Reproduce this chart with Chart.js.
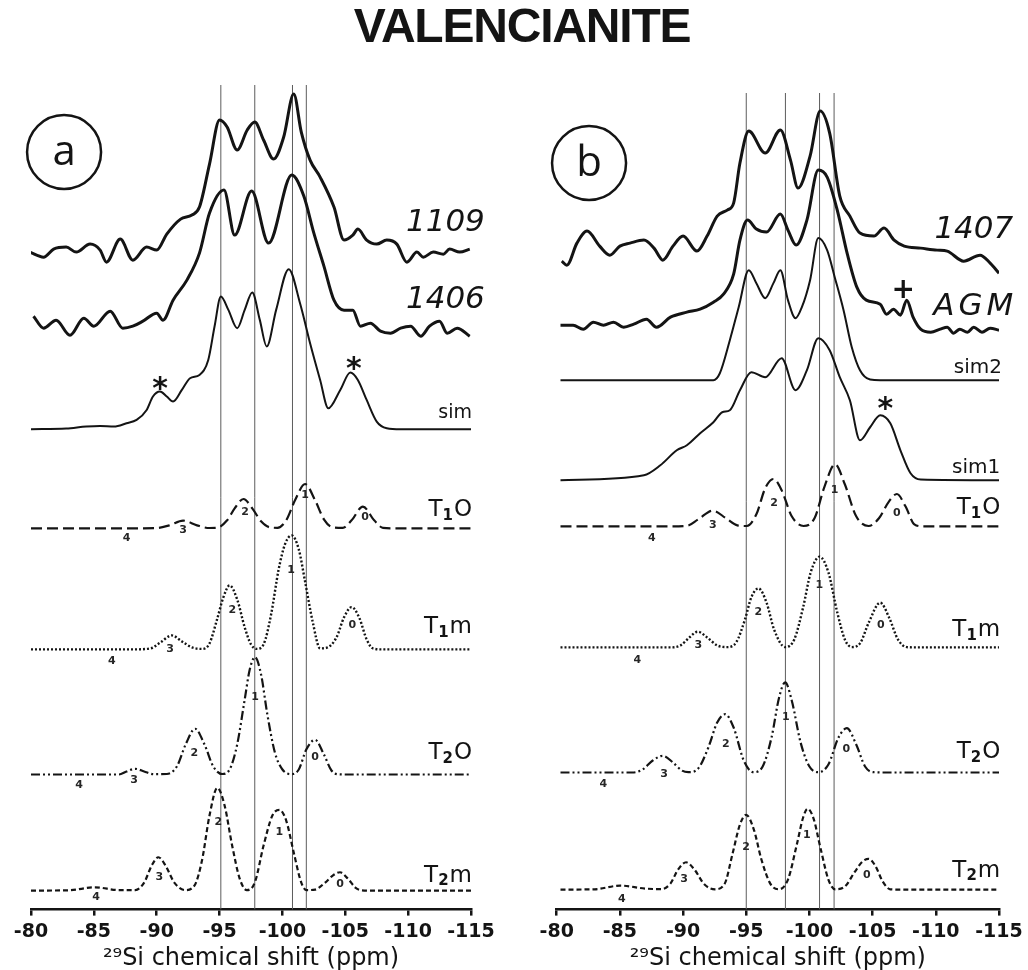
<!DOCTYPE html>
<html>
<head>
<meta charset="utf-8">
<script src="https://cdn.jsdelivr.net/npm/chart.js@4.4.1/dist/chart.umd.min.js"></script>
<style>
  html, body { margin: 0; padding: 0; background: #fff; }
  #wrap { position: relative; width: 1028px; height: 970px; overflow: hidden; }
  canvas { position: absolute; top: 0; }
  #title { position: absolute; left: 0; top: 0; width: 1044px; text-align: center;
           font: bold 48px "Liberation Sans", Arial, sans-serif; letter-spacing: -1.2px;
           line-height: 52px; color: #141414; }
</style>
</head>
<body>
<div id="wrap">
  <canvas id="panelA" width="514" height="970" style="left:0"></canvas>
  <canvas id="panelB" width="514" height="970" style="left:514px"></canvas>
  <div id="title">VALENCIANITE</div>
</div>
<script>
// ---- panel (a) : spectra, intensity above each trace's own baseline ----
const namesA   = ['1109', '1406', 'sim', 'T1O', 'T1m', 'T2O', 'T2m']
const offsetsA = [657, 581, 480, 381, 260, 135, 19]

const ppmA1109 = [-79.9,-81.0,-81.8,-82.8,-83.6,-84.7,-85.5,-86.0,-87.1,-88.1,-89.2,-90.0,-90.8,-91.9,-92.8,-93.4,-94.2,-95.0,-95.6,-96.4,-97.2,-97.8,-98.5,-99.3,-100.1,-100.9,-101.5,-102.2,-103.0,-104.1,-104.9,-105.6,-106.0,-106.7,-107.5,-108.3,-109.1,-109.9,-110.7,-111.2,-112.0,-112.8,-113.3,-114.1,-114.9]
const intA1109 = [0,-5,3,5,0,8,2,-10,13,-8,5,2,18,33,37,45,88,132,125,102,122,130,112,93,115,158,120,92,75,45,12,17,23,12,8,12,8,-10,0,-5,0,-2,3,0,3]

const ppmA1406 = [-80.2,-81.0,-82.0,-83.1,-84.2,-85.0,-86.3,-87.3,-88.1,-88.9,-90.0,-90.5,-91.3,-92.4,-93.4,-94.2,-95.35,-96.2,-97.55,-98.9,-100.74,-101.7,-102.5,-103.3,-104.1,-104.9,-105.6,-106.2,-107.0,-107.8,-108.6,-109.4,-110.2,-111.0,-111.7,-112.5,-113.1,-113.9,-114.9]
const intA1406 = [12,0,8,-7,10,2,17,0,2,7,15,8,28,48,75,115,138,93,137,85,153,132,95,62,28,18,18,2,5,-3,-5,0,2,-8,2,7,-5,0,-8]

const ppmAsim = [-80,-82.8,-84.4,-85.5,-86.6,-87.6,-88.4,-89.2,-89.7,-90.26,-90.8,-91.3,-92.0,-92.65,-93.4,-94.1,-94.6,-95.1,-95.7,-96.4,-97.0,-97.6,-98.2,-98.75,-99.5,-100.5,-101.4,-102.2,-103.0,-103.65,-104.6,-105.4,-106.0,-106.7,-107.5,-108.3,-109.4,-115]
const intAsim = [0,0.7,2.7,3.3,2.7,6,9.3,19.3,32.7,37.7,32.7,27.7,39.3,51,54.3,69.3,102.7,132.7,119.3,101,119.3,136.7,109.3,82.7,119.3,160,126,86,49.3,21,39.3,56.7,49.3,29.3,7.7,1,0,0]

const ppmAT1O = [-80,-88,-90,-91,-92.1,-93.2,-94.2,-94.8,-95.6,-96.2,-96.9,-97.6,-98.3,-99,-99.6,-100.3,-101,-101.8,-102.6,-103.3,-104,-104.8,-105.5,-106.4,-107.3,-108,-109,-115]
const intAT1O = [0,0,0.3,3,7.7,3,0.3,0.5,8,20,29.3,20,7,1,0.5,8,28,44.3,28,9,1,0.5,8,21.7,8,0.5,0,0]

const ppmAT1m = [-80,-88,-89.5,-90.3,-91.2,-92,-92.8,-93.6,-94.2,-94.8,-95.3,-95.8,-96.4,-97,-97.5,-97.95,-98.5,-99.1,-99.7,-100.2,-100.74,-101.3,-101.8,-102.4,-103,-103.6,-104.3,-104.9,-105.5,-106.1,-106.7,-107.2,-108,-115]
const intAT1m = [0,0,1,7,14,8,2,0.5,6,30,52,64,50,22,5,0.5,5,35,80,105,114,100,68,28,1,2,12,32,42.3,32,10,1,0,0]

const ppmAT2O = [-80,-87,-87.6,-88.3,-89,-89.8,-90.8,-91.6,-92.3,-93.05,-93.8,-94.5,-95.2,-95.8,-96.4,-97,-97.4,-97.82,-98.3,-98.8,-99.4,-100,-100.74,-101.3,-101.9,-102.6,-103.3,-103.9,-104.4,-105,-115]
const intAT2O = [0,0,3,5.7,3,0.3,0.5,8,30,45.7,30,8,0.5,5,30,75,105,117.3,100,60,22,5,0.3,5,25,34.7,20,4,0.3,0,0]

const ppmAT2m = [-80,-83,-85.1,-87,-88.3,-89,-89.6,-90.13,-90.7,-91.4,-92.25,-93,-93.6,-94.2,-94.82,-95.4,-96,-96.6,-97.16,-97.8,-98.5,-99.2,-99.76,-100.3,-100.9,-101.5,-101.93,-102.6,-103.4,-104,-104.58,-105.2,-105.8,-106.3,-107,-115]
const intAT2m = [0,0.3,3.3,0.5,0.5,8,25,33.3,25,8,0.5,5,30,75,102.7,85,45,12,0.5,8,45,75,80.7,70,38,8,0.5,1,8,15,18.3,12,3,0.3,0,0]

// ---- panel (b) ----
const namesB   = ['1407', 'AGM', 'sim2', 'sim1', 'T1O', 'T1m', 'T2O', 'T2m']
const offsetsB = [656, 582, 529, 429, 383, 262, 137, 20]

const ppmB1407 = [-80.4,-80.8,-81.6,-82.4,-83.4,-84.2,-85.0,-85.8,-86.9,-87.7,-88.4,-89.2,-90.0,-91.1,-91.9,-92.7,-93.5,-94.0,-94.5,-95.2,-96.5,-97.7,-98.5,-99.1,-100.05,-100.85,-101.6,-102.4,-103.2,-104.0,-105.1,-105.9,-106.7,-107.5,-108.8,-110.1,-110.9,-112.2,-113.5,-114.3,-115.0]
const intB1407 = [-8,-12,10,22,7,-2,7,10,13,5,-7,7,17,2,17,37,43,50,90,122,100,123,93,65,97,142,120,57,37,20,17,25,13,7,5,3,2,-8,-2,-10,-20]

const ppmBAGM = [-80.3,-81.3,-82.1,-82.9,-83.7,-84.5,-85.3,-86.1,-87.1,-87.9,-89.0,-90.3,-91.35,-92.4,-93.2,-94.0,-94.5,-95.1,-95.8,-96.6,-97.7,-98.3,-98.95,-99.8,-100.7,-101.4,-102.2,-103.0,-103.75,-104.5,-105.6,-106.1,-106.65,-107.2,-107.7,-108.2,-108.8,-109.6,-110.35,-110.9,-111.4,-111.9,-112.5,-113.0,-113.65,-114.3,-115.0]
const intBAGM = [2,2,-2,5,2,5,0,3,8,0,10,15,18,25,33,53,87,107,98,95,113,97,82,107,157,150,117,73,40,27,23,13,18,12,27,10,-2,-5,-2,0,-6,-2,-5,0,-5,-1,-3]

const ppmBsim2 = [-80.3,-92.4,-92.9,-93.7,-94.4,-95.2,-95.8,-96.5,-97.15,-97.7,-98.3,-98.9,-99.4,-100.05,-100.7,-101.4,-102.0,-102.7,-103.35,-104.0,-104.8,-105.6,-115]
const intBsim2 = [0,0,6.7,40,73,110,97,82,97,110,80,62,73,100,142,130,103,70,33,10,0.7,0,0]

const ppmBsim1 = [-80.3,-86.9,-88.2,-89.5,-90.3,-91.35,-92.4,-93.1,-93.7,-94.5,-95.4,-96.5,-97.8,-98.9,-99.8,-100.7,-101.6,-102.4,-103.2,-104.0,-104.8,-105.6,-106.4,-107.2,-108.0,-108.8,-115]
const intBsim1 = [0,5,15,30,35,47,58,68,70,90,108,103,122,90,110,142,130,103,80,40,53,65,57,30,7,0.7,0]

const ppmBT1O = [-80.3,-89,-90.3,-91.2,-92.35,-93.4,-94.3,-95.04,-95.8,-96.5,-97.15,-97.8,-98.6,-99.53,-100.4,-101.2,-102.03,-102.8,-103.7,-104.68,-105.5,-106.3,-106.92,-107.6,-108.3,-109,-115]
const intBT1O = [0,0,0.5,7,15.7,8,1,0.3,12,38,47.3,36,10,0.3,8,40,62,42,10,0.3,8,25,32.3,20,2,0,0]

const ppmBT1m = [-80.3,-89,-89.8,-90.5,-91.16,-91.9,-92.7,-93.46,-94.2,-94.9,-95.4,-95.97,-96.6,-97.2,-98.08,-98.8,-99.5,-100.1,-100.8,-101.5,-102.2,-102.8,-103.35,-104,-104.7,-105.6,-106.3,-107,-107.71,-108.5,-115]
const intBT1m = [0,0,2,10,15.7,10,2,0.3,5,28,50,59,45,18,0.3,8,40,75,90.7,75,35,8,0.3,4,25,44.7,30,8,0.3,0,0]

const ppmBT2O = [-80.3,-86,-86.8,-87.6,-88.39,-89.2,-89.9,-90.42,-91.2,-92,-92.7,-93.33,-94,-94.8,-95.57,-96.3,-97,-97.6,-98.08,-98.6,-99.3,-100,-100.72,-101.5,-102.3,-102.96,-103.7,-104.4,-105.07,-106,-115]
const intBT2O = [0,0,3,12,16.7,10,2,0.3,4,25,50,58.3,45,12,0.3,6,35,75,90,72,30,6,0.3,8,35,44.3,28,6,0.3,0,0]

const ppmBT2m = [-80.3,-83,-85.02,-87,-88.3,-89,-89.6,-90.24,-90.9,-91.7,-92.53,-93.3,-93.9,-94.5,-94.99,-95.6,-96.2,-96.9,-97.55,-98.3,-99,-99.5,-99.84,-100.3,-100.9,-101.5,-102.03,-102.8,-103.6,-104.2,-104.68,-105.2,-105.8,-106.39,-107,-115]
const intBT2m = [0,0.3,4,1,0.5,6,20,27.3,20,5,0.3,6,35,65,74.7,60,30,6,0.3,10,45,72,80.7,72,40,10,0.3,3,18,28,30.7,24,8,0.3,0,0]

// reference shifts marked by the thin vertical lines
const marksA = [-95.1, -97.8, -100.8, -101.9]
const marksB = [-95.0, -98.1, -100.8, -101.95]

const xTicks = [-80, -85, -90, -95, -100, -105, -110, -115]

const ink = '#141414'
const DV = '"DejaVu Sans", sans-serif'

function series(ppm, val, off) {
  return ppm.map((p, i) => ({ x: p, y: off + val[i] }))
}

// labels, peak numbers and the circled panel letter
function notesPlugin(spec) {
  return {
    id: 'notes',
    afterDatasetsDraw(chart) {
      const ctx = chart.ctx
      const X = v => chart.scales.x.getPixelForValue(v)
      const Y = v => chart.scales.y.getPixelForValue(v)
      ctx.save()
      ctx.fillStyle = ink
      ctx.strokeStyle = ink

      const cx = X(spec.circle[0]), cy = Y(spec.circle[1])
      ctx.lineWidth = 2.5
      ctx.beginPath()
      ctx.arc(cx, cy, 37, 0, Math.PI * 2)
      ctx.stroke()
      ctx.font = '42px "Open Sans", sans-serif'
      ctx.textAlign = 'center'
      ctx.textBaseline = 'middle'
      ctx.fillText(spec.letter, cx, cy + 1)

      ctx.textAlign = 'right'
      spec.labels.forEach(l => {
        ctx.font = l.font
        if ('letterSpacing' in ctx) ctx.letterSpacing = (l.spacing || 0) + 'px'
        ctx.fillText(l.text, X(l.x), Y(l.y))
      })
      if ('letterSpacing' in ctx) ctx.letterSpacing = '0px'

      // T-site labels with subscript
      ctx.textAlign = 'left'
      spec.sites.forEach(s => {
        const big = '23px ' + DV, sub = 'bold 15px ' + DV
        ctx.font = big
        const wT = ctx.measureText('T').width, wTail = ctx.measureText(s.tail).width
        ctx.font = sub
        const wS = ctx.measureText(s.sub).width
        let x0 = X(s.x) - (wT + wS + wTail + 1)
        const y0 = Y(s.y)
        ctx.font = big
        ctx.fillText('T', x0, y0)
        ctx.font = sub
        ctx.fillText(s.sub, x0 + wT, y0 + 6)
        ctx.font = big
        ctx.fillText(s.tail, x0 + wT + wS + 1, y0)
      })

      ctx.textAlign = 'center'
      ctx.fillStyle = '#262626'
      ctx.font = 'bold 11px ' + DV
      spec.nums.forEach(n => ctx.fillText(n[0], X(n[1]), Y(n[2])))

      ctx.fillStyle = ink
      ctx.textBaseline = 'alphabetic'
      spec.marks2.forEach(m => {
        ctx.font = 'bold ' + m.size + 'px ' + DV
        ctx.fillText(m.g, X(m.x), Y(m.y) + m.size * m.lift)
      })
      ctx.restore()
    }
  }
}

function makePanel(id, spec) {
  const datasets = []
  spec.marks.forEach(m => datasets.push({
    label: 'mark ' + m,
    data: [{ x: m, y: 0 }, { x: m, y: spec.markTop }],
    borderColor: '#5c5c5c', borderWidth: 1, pointRadius: 0, tension: 0, order: 10
  }))
  spec.traces.forEach((tr, i) => datasets.push({
    label: spec.names[i],
    data: series(tr[0], tr[1], spec.offsets[i]),
    borderColor: ink, borderWidth: spec.widths[i], borderDash: spec.dashes[i],
    borderCapStyle: 'butt', borderJoinStyle: 'round',
    pointRadius: 0, cubicInterpolationMode: 'monotone', order: 1
  }))

  new Chart(document.getElementById(id), {
    type: 'line',
    data: { datasets },
    options: {
      responsive: false,
      animation: false,
      events: [],
      layout: { padding: { left: spec.padL, right: spec.padR, top: 80, bottom: 0 } },
      plugins: { legend: { display: false }, tooltip: { enabled: false } },
      scales: {
        x: {
          type: 'linear', min: -115, max: -80, reverse: true,
          afterBuildTicks: s => { s.ticks = xTicks.map(v => ({ value: v })) },
          border: { display: true, color: ink, width: 2.5 },
          grid: { drawOnChartArea: false, drawTicks: true, tickLength: 6, color: ink, lineWidth: 2.5 },
          ticks: { color: ink, padding: 5, autoSkip: false, maxRotation: 0,
                   font: { family: DV, size: 19, weight: 'bold' } },
          title: { display: true, text: '²⁹Si chemical shift (ppm)', color: ink,
                   padding: { top: 0, bottom: 0 }, font: { family: DV, size: 24, lineHeight: 0.9 } }
        },
        y: { display: false, min: 0, max: 829 }
      }
    },
    plugins: [notesPlugin(spec)]
  })
}

const bigFont = 'italic 31px ' + DV

makePanel('panelA', {
  names: namesA, offsets: offsetsA,
  traces: [[ppmA1109, intA1109], [ppmA1406, intA1406], [ppmAsim, intAsim],
           [ppmAT1O, intAT1O], [ppmAT1m, intAT1m], [ppmAT2O, intAT2O], [ppmAT2m, intAT2m]],
  widths: [3, 3, 2, 2.2, 2.4, 2.2, 2.2],
  dashes: [[], [], [], [11, 5], [2, 2], [9, 3, 2, 3, 2, 3], [5, 3]],
  marks: marksA, markTop: 824,
  padL: 31, padR: 43,
  circle: [-82.63, 757], letter: 'a',
  labels: [
    { text: '1109', x: -116.1, y: 686, font: bigFont },
    { text: '1406', x: -116.1, y: 609, font: bigFont },
    { text: 'sim', x: -115.08, y: 496, font: '19px ' + DV }
  ],
  sites: [
    { sub: '1', tail: 'O', x: -115.08, y: 399 },
    { sub: '1', tail: 'm', x: -115.08, y: 282 },
    { sub: '2', tail: 'O', x: -115.08, y: 156 },
    { sub: '2', tail: 'm', x: -115.08, y: 34 }
  ],
  nums: [
    ['4', -87.61, 370.7], ['3', -92.09, 379], ['2', -97.02, 397.3], ['1', -101.8, 414], ['0', -106.57, 392.3],
    ['4', -86.42, 248.3], ['3', -91.06, 260.7], ['2', -96.01, 299], ['1', -100.68, 339], ['0', -105.56, 284],
    ['4', -83.82, 124], ['3', -88.19, 129.7], ['2', -92.99, 156.3], ['1', -97.82, 212.3], ['0', -102.59, 152.3],
    ['4', -85.17, 12.3], ['3', -90.21, 32.3], ['2', -94.9, 87.3], ['1', -99.75, 77.3], ['0', -104.58, 25.7]
  ],
  marks2: [
    { g: '*', x: -90.26, y: 529, size: 30, lift: 0.58 },
    { g: '*', x: -105.69, y: 549, size: 30, lift: 0.58 }
  ]
})

makePanel('panelB', {
  names: namesB, offsets: offsetsB,
  traces: [[ppmB1407, intB1407], [ppmBAGM, intBAGM], [ppmBsim2, intBsim2], [ppmBsim1, intBsim1],
           [ppmBT1O, intBT1O], [ppmBT1m, intBT1m], [ppmBT2O, intBT2O], [ppmBT2m, intBT2m]],
  widths: [3, 3, 2, 2, 2.2, 2.4, 2.2, 2.2],
  dashes: [[], [], [], [], [11, 5], [2, 2], [9, 3, 2, 3, 2, 3], [5, 3]],
  marks: marksB, markTop: 816,
  padL: 42.7, padR: 29,
  circle: [-82.56, 746], letter: 'b',
  labels: [
    { text: '1407', x: -116.13, y: 679, font: bigFont },
    { text: 'AGM', x: -116.45, y: 602, font: bigFont, spacing: 4 },
    { text: 'sim2', x: -115.23, y: 541, font: '20px ' + DV },
    { text: 'sim1', x: -115.1, y: 441, font: '20px ' + DV }
  ],
  sites: [
    { sub: '1', tail: 'O', x: -115.1, y: 401 },
    { sub: '1', tail: 'm', x: -115.1, y: 279 },
    { sub: '2', tail: 'O', x: -115.1, y: 157 },
    { sub: '2', tail: 'm', x: -115.1, y: 39 }
  ],
  nums: [
    ['4', -87.52, 370.7], ['3', -92.35, 384], ['2', -97.2, 405.7], ['1', -101.98, 419], ['0', -106.92, 395.7],
    ['4', -86.38, 249], ['3', -91.21, 264], ['2', -95.96, 297.3], ['1', -100.79, 324], ['0', -105.65, 284],
    ['4', -83.69, 125.7], ['3', -88.5, 135], ['2', -93.38, 165.7], ['1', -98.13, 192.3], ['0', -102.91, 160.7],
    ['4', -85.15, 10.7], ['3', -90.08, 30.7], ['2', -94.99, 62.3], ['1', -99.79, 74], ['0', -104.54, 34]
  ],
  marks2: [
    { g: '*', x: -106.0, y: 509, size: 30, lift: 0.58 },
    { g: '+', x: -107.42, y: 621, size: 28, lift: 0.34 }
  ]
})
</script>
</body>
</html>
